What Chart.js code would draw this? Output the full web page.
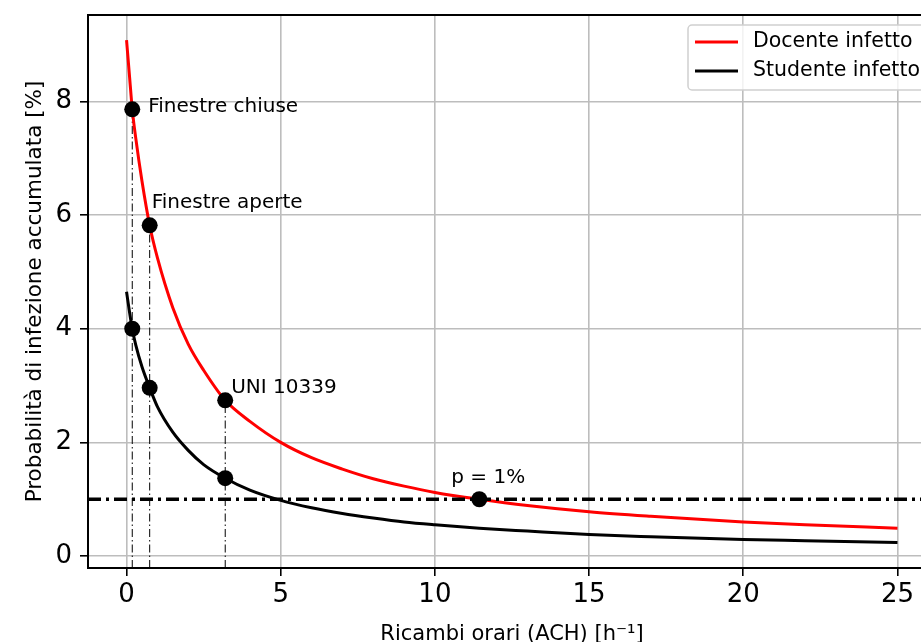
<!DOCTYPE html>
<html>
<head>
<meta charset="utf-8">
<script src="https://cdn.jsdelivr.net/npm/chart.js@4"></script>
<style>
html, body { margin: 0; padding: 0; overflow: hidden; background: #fff; }
#frame { position: relative; width: 921px; height: 642px; overflow: hidden; }
#box { position: absolute; left: 0; top: 0; width: 950px; height: 660px; }
</style>
</head>
<body>
<div id="frame"><div id="box"><canvas id="myChart"></canvas></div></div>
<script>
// Values
const ach = [0, 0.1, 0.185, 0.3, 0.5, 0.75, 1, 1.5, 2, 2.5, 3.2, 4, 5, 6, 7, 8, 9, 10, 11.44, 13, 15, 17, 20, 22, 25];
const docente = [9.08, 8.42, 7.86, 7.35, 6.60, 5.82, 5.25, 4.37, 3.73, 3.27, 2.74, 2.37, 2.00, 1.73, 1.53, 1.36, 1.23, 1.12, 1.00, 0.89, 0.78, 0.70, 0.60, 0.55, 0.49];
const studente = [4.65, 4.28, 4.00, 3.71, 3.33, 2.96, 2.63, 2.18, 1.86, 1.61, 1.37, 1.16, 0.98, 0.85, 0.75, 0.67, 0.60, 0.55, 0.49, 0.44, 0.38, 0.34, 0.29, 0.27, 0.24];

const caseLabels = ['Finestre chiuse', 'Finestre aperte', 'UNI 10339', 'p = 1%'];
const caseAch = [0.185, 0.75, 3.2, 11.44];
const caseDocente = [7.86, 5.82, 2.74, 1.0];
const caseStudente = [4.0, 2.96, 1.37];
const threshold = 1;

const seriesNames = ['Docente infetto', 'Studente infetto'];
const xTickValues = [0, 5, 10, 15, 20, 25];
const yTickValues = [0, 2, 4, 6, 8];

const X_MIN = -1.25, X_MAX = 26.25, Y_MIN = -0.21, Y_MAX = 9.52;
const FONT = 'DejaVu Sans';

const pts = (xs, ys) => ys.map((y, i) => ({ x: xs[i], y: y }));

// vertical guides from the bottom up to the teacher markers (not the p = 1% one)
const guides = [];
caseAch.slice(0, 3).forEach((x, i) => {
    guides.push({ x: x, y: Y_MIN }, { x: x, y: caseDocente[i] }, { x: x, y: null });
});

// text next to the teacher markers, offsets in px
const labelOffsets = [[16, 3], [2, -17], [6, -7], [-28, -16]];

const annotPlugin = {
    id: 'annot',
    afterDatasetsDraw(chart) {
        const meta = chart.getDatasetMeta(4);
        const ctx = chart.ctx;
        ctx.save();
        ctx.font = '20px "' + FONT + '"';
        ctx.fillStyle = '#000';
        ctx.textAlign = 'left';
        ctx.textBaseline = 'alphabetic';
        caseLabels.forEach((t, i) => {
            const p = meta.data[i];
            ctx.fillText(t, p.x + labelOffsets[i][0], p.y + labelOffsets[i][1]);
        });
        ctx.restore();
    }
};

const framePlugin = {
    id: 'frame',
    afterDraw(chart) {
        const a = chart.chartArea;
        const ctx = chart.ctx;
        ctx.save();
        ctx.strokeStyle = '#000';
        ctx.lineWidth = 2;
        ctx.beginPath();
        ctx.moveTo(a.left - 1, a.top);
        ctx.lineTo(a.right, a.top);
        ctx.lineTo(a.right, a.bottom);
        ctx.stroke();
        ctx.restore();
    }
};

const legendPlugin = {
    id: 'boxLegend',
    afterDraw(chart) {
        const a = chart.chartArea;
        const ctx = chart.ctx;
        const left = a.right - 248, top = a.top + 10, w = 241, h = 65;
        ctx.save();
        ctx.fillStyle = 'rgba(255,255,255,0.8)';
        ctx.strokeStyle = '#d0d0d0';
        ctx.lineWidth = 1.5;
        ctx.beginPath();
        ctx.roundRect(left, top, w, h, 4);
        ctx.fill();
        ctx.stroke();
        ctx.font = '20.5px "' + FONT + '"';
        ctx.textBaseline = 'middle';
        ctx.fillStyle = '#000';
        [0, 1].forEach(i => {
            const ds = chart.data.datasets[i];
            const y = top + 17 + i * 29;
            ctx.strokeStyle = ds.borderColor;
            ctx.lineWidth = 3;
            ctx.beginPath();
            ctx.moveTo(left + 7, y);
            ctx.lineTo(left + 50, y);
            ctx.stroke();
            ctx.fillText(ds.label, left + 65, y);
        });
        ctx.restore();
    }
};

const ctx = document.getElementById('myChart').getContext('2d');
new Chart(ctx, {
    type: 'line',
    data: {
        datasets: [{
            label: seriesNames[0],
            data: pts(ach, docente),
            borderColor: '#ff0000',
            borderWidth: 3,
            pointRadius: 0,
            cubicInterpolationMode: 'monotone',
            order: 3
        },
        {
            label: seriesNames[1],
            data: pts(ach, studente),
            borderColor: '#000000',
            borderWidth: 3,
            pointRadius: 0,
            cubicInterpolationMode: 'monotone',
            order: 3
        },
        {
            label: 'guides',
            data: guides,
            borderColor: '#000000',
            borderWidth: 1,
            borderDash: [8, 3, 1.5, 3],
            pointRadius: 0,
            spanGaps: false,
            order: 4
        },
        {
            label: 'p = 1%',
            data: [{ x: X_MIN, y: threshold }, { x: X_MAX, y: threshold }],
            borderColor: '#000000',
            borderWidth: 3.5,
            borderDash: [13, 5, 3, 5],
            pointRadius: 0,
            order: 2
        },
        {
            label: 'casi docente',
            data: pts(caseAch, caseDocente),
            showLine: false,
            pointRadius: 8,
            pointBackgroundColor: '#000',
            pointBorderWidth: 0,
            order: 1
        },
        {
            label: 'casi studente',
            data: pts(caseAch, caseStudente),
            showLine: false,
            pointRadius: 8,
            pointBackgroundColor: '#000',
            pointBorderWidth: 0,
            order: 1
        }]
    },
    options: {
        responsive: true,
        maintainAspectRatio: false,
        animation: false,
        events: [],
        layout: { padding: { left: 0, top: 15, right: 14, bottom: 0 } },
        plugins: {
            legend: { display: false },
            tooltip: { enabled: false }
        },
        scales: {
            x: {
                type: 'linear',
                min: X_MIN,
                max: X_MAX,
                afterBuildTicks: s => { s.ticks = xTickValues.map(v => ({ value: v })); },
                afterFit: s => { s.height = 92; s.paddingLeft = 0; s.paddingRight = 0; },
                grid: { color: '#bdbdbd', lineWidth: 1.6, tickColor: '#000', tickWidth: 1.6, tickLength: 8 },
                border: { display: true, color: '#000', width: 2 },
                ticks: { color: '#000', font: { family: FONT, size: 26 }, padding: 4 },
                title: {
                    display: true,
                    text: 'Ricambi orari (ACH) [h⁻¹]',
                    color: '#000',
                    font: { family: FONT, size: 21 },
                    padding: { top: 0, bottom: 13 }
                }
            },
            y: {
                min: Y_MIN,
                max: Y_MAX,
                afterBuildTicks: s => { s.ticks = yTickValues.map(v => ({ value: v })); },
                afterFit: s => { s.width = 88; s.paddingTop = 0; s.paddingBottom = 0; },
                grid: { color: '#bdbdbd', lineWidth: 1.6, tickColor: '#000', tickWidth: 1.6, tickLength: 8 },
                border: { display: true, color: '#000', width: 2 },
                ticks: { color: '#000', font: { family: FONT, size: 26 }, padding: 8 },
                title: {
                    display: true,
                    text: 'Probabilità di infezione accumulata [%]',
                    color: '#000',
                    font: { family: FONT, size: 21.5 },
                    padding: { top: 23, bottom: 0 }
                }
            }
        }
    },
    plugins: [annotPlugin, framePlugin, legendPlugin]
});
</script>
</body>
</html>
